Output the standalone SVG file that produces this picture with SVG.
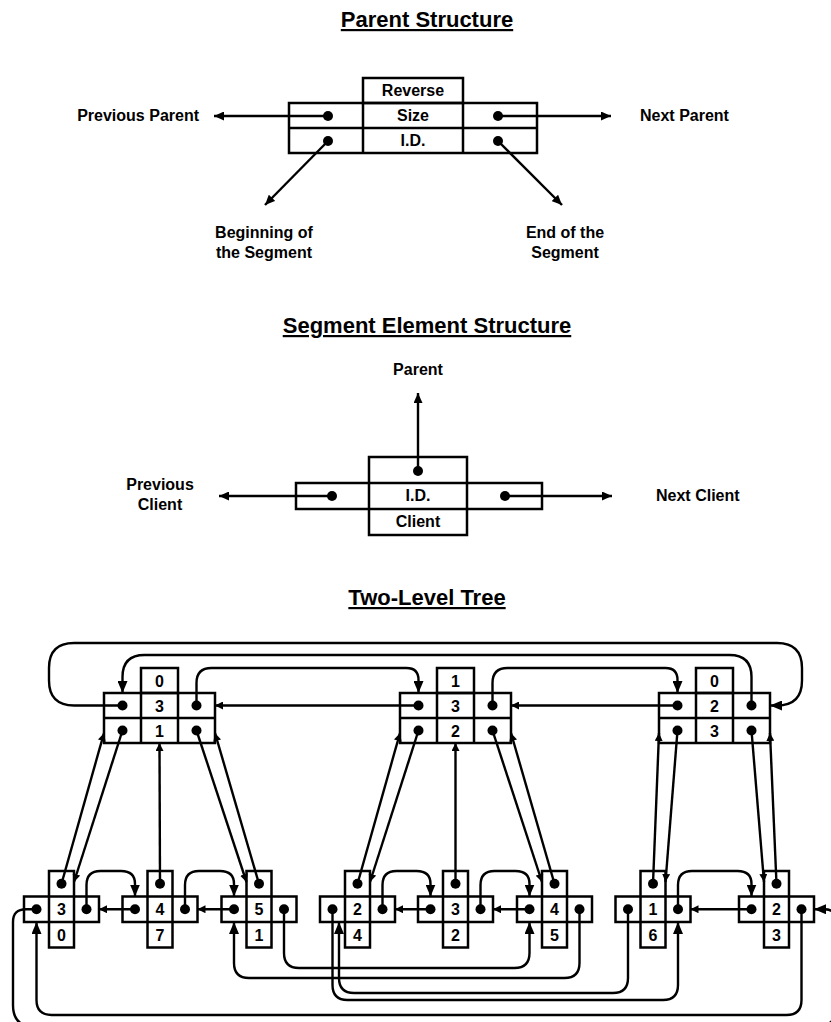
<svg xmlns="http://www.w3.org/2000/svg" width="831" height="1022" viewBox="0 0 831 1022">
<defs>
<style>
.b{fill:none;stroke:#000;stroke-width:2.5}
.c{fill:none;stroke:#000;stroke-width:2.4}
.d{fill:#000}
text{font-family:"Liberation Sans",Arial,Helvetica,sans-serif;font-weight:bold;fill:#000}
.t{font-size:22px;text-anchor:middle;text-decoration:underline}
.l{font-size:16px}
.m{text-anchor:middle}
.e{text-anchor:end}
.n{font-size:16px;text-anchor:middle}
.ab{marker-end:url(#ab)}
.as{marker-end:url(#as)}
.am{marker-end:url(#am)}
</style>
<marker id="ab" viewBox="0 0 12 10" refX="12" refY="5" markerWidth="12" markerHeight="10" markerUnits="userSpaceOnUse" orient="auto"><path d="M0,0L12,5L0,10z"/></marker>
<marker id="as" viewBox="0 0 8 8" refX="8" refY="4" markerWidth="8" markerHeight="8" markerUnits="userSpaceOnUse" orient="auto"><path d="M0,0L8,4L0,8z"/></marker>
<marker id="am" viewBox="0 0 10 9" refX="10" refY="4.5" markerWidth="10" markerHeight="9" markerUnits="userSpaceOnUse" orient="auto"><path d="M0,0L10,4.5L0,9z"/></marker>
</defs>
<rect width="831" height="1022" fill="#fff"/>

<g id="titles">
<text class="t" x="427" y="27">Parent Structure</text>
<text class="t" x="427" y="333">Segment Element Structure</text>
<text class="t" x="427" y="605">Two-Level Tree</text>
</g>

<g id="connectors" class="c">
<!-- parent structure -->
<path class="am" d="M328,116H214"/>
<path class="am" d="M498,116H611"/>
<path class="am" d="M328,141L265,205"/>
<path class="am" d="M498,141L562,205"/>
<!-- segment element structure -->
<path class="am" d="M418,471V393"/>
<path class="am" d="M332,496H219"/>
<path class="am" d="M505,496H612"/>
<!-- tree: parent level -->
<path class="ab" d="M122.5,705.5H74Q49,705.5 49,680.5V668Q49,643 74,643H777Q802,643 802,668V680.5Q802,705.5 777,705.5H770"/>
<path class="ab" d="M751.5,705.5V677Q751.5,655 729.5,655H144.5Q122.5,655 122.5,677V693"/>
<path class="ab" d="M196.5,705.5V683Q196.5,668 211.5,668H406.5Q418.5,668 418.5,680V693"/>
<path class="ab" d="M492.5,705.5V683Q492.5,668 507.5,668H665.5Q677.5,668 677.5,680V693"/>
<path class="as" d="M418.5,705.5H215"/>
<path class="as" d="M677.5,705.5H511"/>
<!-- tree: parent/element links -->
<path class="as" d="M61.5,883.75L104,733"/>
<path class="as" d="M122.5,730.5L74,882"/>
<path class="as" d="M160,883.75L159.5,743"/>
<path class="as" d="M196.5,730.5L246.5,882"/>
<path class="as" d="M259,883.75L215,733"/>
<path class="as" d="M357.5,883.75L400,733"/>
<path class="as" d="M418.5,730.5L370,882"/>
<path class="as" d="M455.5,883.75L455.5,743"/>
<path class="as" d="M492.5,730.5L542,882"/>
<path class="as" d="M554.5,883.75L511,733"/>
<path class="as" d="M653,883.75L659,733"/>
<path class="as" d="M677.5,730.5L665.5,882"/>
<path class="as" d="M751.5,730.5L764,882"/>
<path class="as" d="M776.5,883.75L770,733"/>
<!-- tree: next arcs -->
<path class="ab" d="M86.5,909.25V885Q86.5,871 100.5,871H121Q135,871 135,884V896.5"/>
<path class="ab" d="M185,909.25V885Q185,871 199,871H220Q234,871 234,884V896.5"/>
<path class="ab" d="M382.5,909.25V885Q382.5,871 396.5,871H416.5Q430.5,871 430.5,884V896.5"/>
<path class="ab" d="M480.5,909.25V885Q480.5,871 494.5,871H515.5Q529.5,871 529.5,884V896.5"/>
<path class="ab" d="M678,909.25V885Q678,871 692,871H737.5Q751.5,871 751.5,884V896.5"/>
<!-- tree: previous arrows -->
<path class="as" d="M135,909.25H99"/>
<path class="as" d="M234,909.25H197.5"/>
<path class="as" d="M430.5,909.25H395"/>
<path class="as" d="M529.5,909.25H493"/>
<path class="as" d="M751.5,909.25H690.5"/>
<!-- tree: bottom loops -->
<path class="ab" d="M284,909.25V953Q284,968 299,968H514.5Q529.5,968 529.5,953V922"/>
<path class="ab" d="M579.5,909.25V963Q579.5,978 564.5,978H249Q234,978 234,963V922"/>
<path class="ab" d="M628,909.25V978Q628,993 613,993H354Q339,993 339,978V922"/>
<path class="ab" d="M332.5,909.25V985Q332.5,1000 347.5,1000H663Q678,1000 678,985V922"/>
<path class="ab" d="M801.5,909.25V1000Q801.5,1015 786.5,1015H51.5Q36.5,1015 36.5,1000V922"/>
<path class="ab" d="M36.5,909.25H26Q13,909.25 13,922V1005Q13,1027 35,1027H815Q837,1027 837,1005V925Q837,909.25 825,909.25H814"/>
</g>

<g id="parent-structure">
<rect class="b" x="363" y="78" width="100" height="25"/>
<rect class="b" x="289" y="103" width="248" height="50"/>
<path class="b" d="M363,103V153M463,103V153M289,128H537"/>
<text class="l m" x="413" y="96">Reverse</text>
<text class="l m" x="413" y="121">Size</text>
<text class="l m" x="413" y="146">I.D.</text>
<circle class="d" cx="328" cy="116" r="5"/>
<circle class="d" cx="498" cy="116" r="5"/>
<circle class="d" cx="328" cy="141" r="5"/>
<circle class="d" cx="498" cy="141" r="5"/>
</g>
<g id="parent-structure-labels">
<text class="l e" x="199" y="121">Previous Parent</text>
<text class="l" x="640" y="121">Next Parent</text>
<text class="l m" x="264" y="238">Beginning of</text>
<text class="l m" x="264" y="258">the Segment</text>
<text class="l m" x="565" y="238">End of the</text>
<text class="l m" x="565" y="258">Segment</text>
</g>

<g id="segment-element-structure">
<rect class="b" x="369" y="457" width="98" height="78"/>
<rect class="b" x="296" y="483" width="246" height="26"/>
<text class="l m" x="418" y="501">I.D.</text>
<text class="l m" x="418" y="527">Client</text>
<circle class="d" cx="418" cy="471" r="5"/>
<circle class="d" cx="332" cy="496" r="5"/>
<circle class="d" cx="505" cy="496" r="5"/>
</g>
<g id="segment-element-labels">
<text class="l m" x="418" y="375">Parent</text>
<text class="l m" x="160" y="490">Previous</text>
<text class="l m" x="160" y="510">Client</text>
<text class="l" x="656" y="501">Next Client</text>
</g>

<g id="parent-1">
<rect class="b" x="141" y="668" width="37" height="25"/>
<rect class="b" x="104" y="693" width="111" height="50"/>
<path class="b" d="M141,693V743M178,693V743M104,718H215"/>
<text class="n" x="159.5" y="686.5">0</text>
<text class="n" x="159.5" y="711.5">3</text>
<text class="n" x="159.5" y="736.5">1</text>
<circle class="d" cx="122.5" cy="705.5" r="5"/>
<circle class="d" cx="196.5" cy="705.5" r="5"/>
<circle class="d" cx="122.5" cy="730.5" r="5"/>
<circle class="d" cx="196.5" cy="730.5" r="5"/>
</g>
<g id="parent-2">
<rect class="b" x="437" y="668" width="37" height="25"/>
<rect class="b" x="400" y="693" width="111" height="50"/>
<path class="b" d="M437,693V743M474,693V743M400,718H511"/>
<text class="n" x="455.5" y="686.5">1</text>
<text class="n" x="455.5" y="711.5">3</text>
<text class="n" x="455.5" y="736.5">2</text>
<circle class="d" cx="418.5" cy="705.5" r="5"/>
<circle class="d" cx="492.5" cy="705.5" r="5"/>
<circle class="d" cx="418.5" cy="730.5" r="5"/>
<circle class="d" cx="492.5" cy="730.5" r="5"/>
</g>
<g id="parent-3">
<rect class="b" x="696" y="668" width="37" height="25"/>
<rect class="b" x="659" y="693" width="111" height="50"/>
<path class="b" d="M696,693V743M733,693V743M659,718H770"/>
<text class="n" x="714.5" y="686.5">0</text>
<text class="n" x="714.5" y="711.5">2</text>
<text class="n" x="714.5" y="736.5">3</text>
<circle class="d" cx="677.5" cy="705.5" r="5"/>
<circle class="d" cx="751.5" cy="705.5" r="5"/>
<circle class="d" cx="677.5" cy="730.5" r="5"/>
<circle class="d" cx="751.5" cy="730.5" r="5"/>
</g>

<g id="element-1">
<rect class="b" x="24" y="896.5" width="75" height="25.5"/>
<rect class="b" x="49" y="871" width="25" height="76.5"/>
<text class="n" x="61.5" y="915">3</text>
<text class="n" x="61.5" y="940.5">0</text>
<circle class="d" cx="61.5" cy="883.75" r="5"/>
<circle class="d" cx="36.5" cy="909.25" r="5"/>
<circle class="d" cx="86.5" cy="909.25" r="5"/>
</g>
<g id="element-2">
<rect class="b" x="122.5" y="896.5" width="75" height="25.5"/>
<rect class="b" x="147.5" y="871" width="25" height="76.5"/>
<text class="n" x="160" y="915">4</text>
<text class="n" x="160" y="940.5">7</text>
<circle class="d" cx="160" cy="883.75" r="5"/>
<circle class="d" cx="135" cy="909.25" r="5"/>
<circle class="d" cx="185" cy="909.25" r="5"/>
</g>
<g id="element-3">
<rect class="b" x="221.5" y="896.5" width="75" height="25.5"/>
<rect class="b" x="246.5" y="871" width="25" height="76.5"/>
<text class="n" x="259" y="915">5</text>
<text class="n" x="259" y="940.5">1</text>
<circle class="d" cx="259" cy="883.75" r="5"/>
<circle class="d" cx="234" cy="909.25" r="5"/>
<circle class="d" cx="284" cy="909.25" r="5"/>
</g>
<g id="element-4">
<rect class="b" x="320" y="896.5" width="75" height="25.5"/>
<rect class="b" x="345" y="871" width="25" height="76.5"/>
<text class="n" x="357.5" y="915">2</text>
<text class="n" x="357.5" y="940.5">4</text>
<circle class="d" cx="357.5" cy="883.75" r="5"/>
<circle class="d" cx="332.5" cy="909.25" r="5"/>
<circle class="d" cx="382.5" cy="909.25" r="5"/>
</g>
<g id="element-5">
<rect class="b" x="418" y="896.5" width="75" height="25.5"/>
<rect class="b" x="443" y="871" width="25" height="76.5"/>
<text class="n" x="455.5" y="915">3</text>
<text class="n" x="455.5" y="940.5">2</text>
<circle class="d" cx="455.5" cy="883.75" r="5"/>
<circle class="d" cx="430.5" cy="909.25" r="5"/>
<circle class="d" cx="480.5" cy="909.25" r="5"/>
</g>
<g id="element-6">
<rect class="b" x="517" y="896.5" width="75" height="25.5"/>
<rect class="b" x="542" y="871" width="25" height="76.5"/>
<text class="n" x="554.5" y="915">4</text>
<text class="n" x="554.5" y="940.5">5</text>
<circle class="d" cx="554.5" cy="883.75" r="5"/>
<circle class="d" cx="529.5" cy="909.25" r="5"/>
<circle class="d" cx="579.5" cy="909.25" r="5"/>
</g>
<g id="element-7">
<rect class="b" x="615.5" y="896.5" width="75" height="25.5"/>
<rect class="b" x="640.5" y="871" width="25" height="76.5"/>
<text class="n" x="653" y="915">1</text>
<text class="n" x="653" y="940.5">6</text>
<circle class="d" cx="653" cy="883.75" r="5"/>
<circle class="d" cx="628" cy="909.25" r="5"/>
<circle class="d" cx="678" cy="909.25" r="5"/>
</g>
<g id="element-8">
<rect class="b" x="739" y="896.5" width="75" height="25.5"/>
<rect class="b" x="764" y="871" width="25" height="76.5"/>
<text class="n" x="776.5" y="915">2</text>
<text class="n" x="776.5" y="940.5">3</text>
<circle class="d" cx="776.5" cy="883.75" r="5"/>
<circle class="d" cx="751.5" cy="909.25" r="5"/>
<circle class="d" cx="801.5" cy="909.25" r="5"/>
</g>
</svg>
